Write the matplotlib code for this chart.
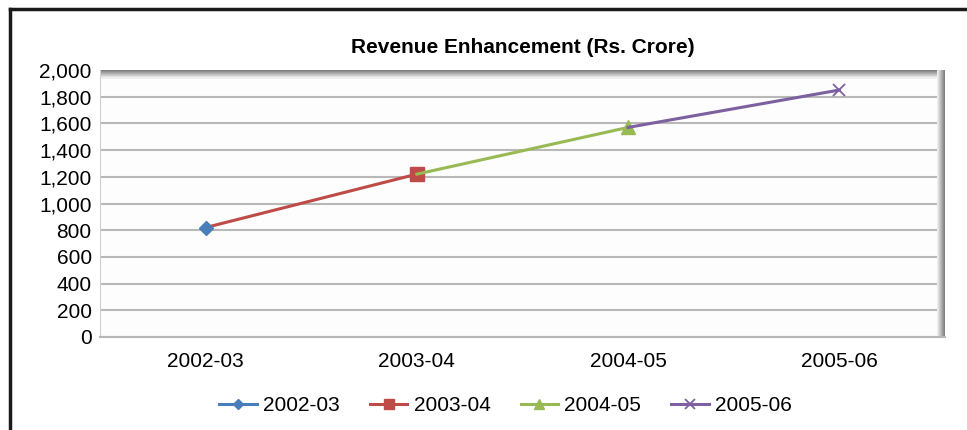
import numpy as np
import matplotlib.pyplot as plt
from matplotlib.lines import Line2D
from matplotlib.patches import Rectangle
from matplotlib.ticker import FuncFormatter

plt.rcParams['font.family'] = ['Liberation Sans', 'DejaVu Sans']

# revenue enhancement per year (Rs. crore)
years = ["2002-03", "2003-04", "2004-05", "2005-06"]
revenue = [820, 1220, 1570, 1850]
colors = ["#4a7ebb", "#be4b48", "#98b954", "#7d60a0"]
markers = ["D", "s", "^", "x"]
marker_sizes = [7, 9.5, 9.5, 9]

fig = plt.figure(figsize=(9.67, 4.3), dpi=100)
ax = fig.add_axes([100/967, 93/430, 845/967, 267/430])
ax.set_facecolor("#fdfdfd")

# each year is its own series: a segment from the previous year, marker at the end
for i, yr in enumerate(years):
    if i == 0:
        xs, ys = [i], [revenue[i]]
    else:
        xs, ys = [i - 1, i], [revenue[i - 1], revenue[i]]
    ax.plot(xs, ys, color=colors[i], lw=2.2, marker=markers[i],
            markersize=marker_sizes[i], markevery=[len(xs) - 1],
            markeredgewidth=1.3 if markers[i] == "x" else 1, label=yr,
            zorder=4 if i == 0 else 3)

ax.set_xlim(-0.5, 3.5)
ax.set_ylim(0, 2000)
ax.set_yticks(np.arange(0, 2001, 200))
ax.yaxis.set_major_formatter(FuncFormatter(lambda v, p: f"{int(v):,}"))
ax.set_xticks(range(len(years)))
ax.set_xticklabels(years)
ax.tick_params(axis="both", length=0, labelsize=15)
ax.tick_params(axis="x", pad=11)
ax.tick_params(axis="y", pad=6)
ax.grid(axis="y", color="#b8b8b8", lw=1.5, zorder=1)
ax.set_axisbelow(True)

for s in ["top", "right"]:
    ax.spines[s].set_visible(False)
ax.spines["left"].set_color("#d0d0d0")
ax.spines["bottom"].set_color("#b8b8b8")
ax.spines["bottom"].set_linewidth(1.5)

# bevel shading along the top and right edges of the plot area
n = 8
for k in range(n):
    shade = 0.5 + 0.5 * k / n
    ax.add_patch(Rectangle((0, 1 - (k + 1) * 0.004), 1, 0.004, transform=ax.transAxes,
                           color=(shade, shade, shade), lw=0, clip_on=False, zorder=2))
for k in reversed(range(n)):
    shade = 0.5 + 0.5 * k / n
    ax.add_patch(Rectangle((1 - (k + 1) * 0.0012, 0), 0.0012, 1, transform=ax.transAxes,
                           color=(shade, shade, shade), lw=0, clip_on=False, zorder=2))

ax.set_title("Revenue Enhancement (Rs. Crore)", fontsize=15, fontweight="bold", pad=12)

ax.legend(loc="upper center", bbox_to_anchor=(0.48, -0.15), ncol=4, frameon=False,
          fontsize=15, handlelength=1.8, handletextpad=0.3, columnspacing=1.45,
          markerscale=0.8)

# outer frame edges
fig.add_artist(Line2D([10/967, 10/967], [0, 1 - 9/430], color="#1a1a1a", lw=2.5))
fig.add_artist(Line2D([10/967, 1], [1 - 9/430, 1 - 9/430], color="#1a1a1a", lw=2.5))

fig.savefig("out.png", dpi=100)
